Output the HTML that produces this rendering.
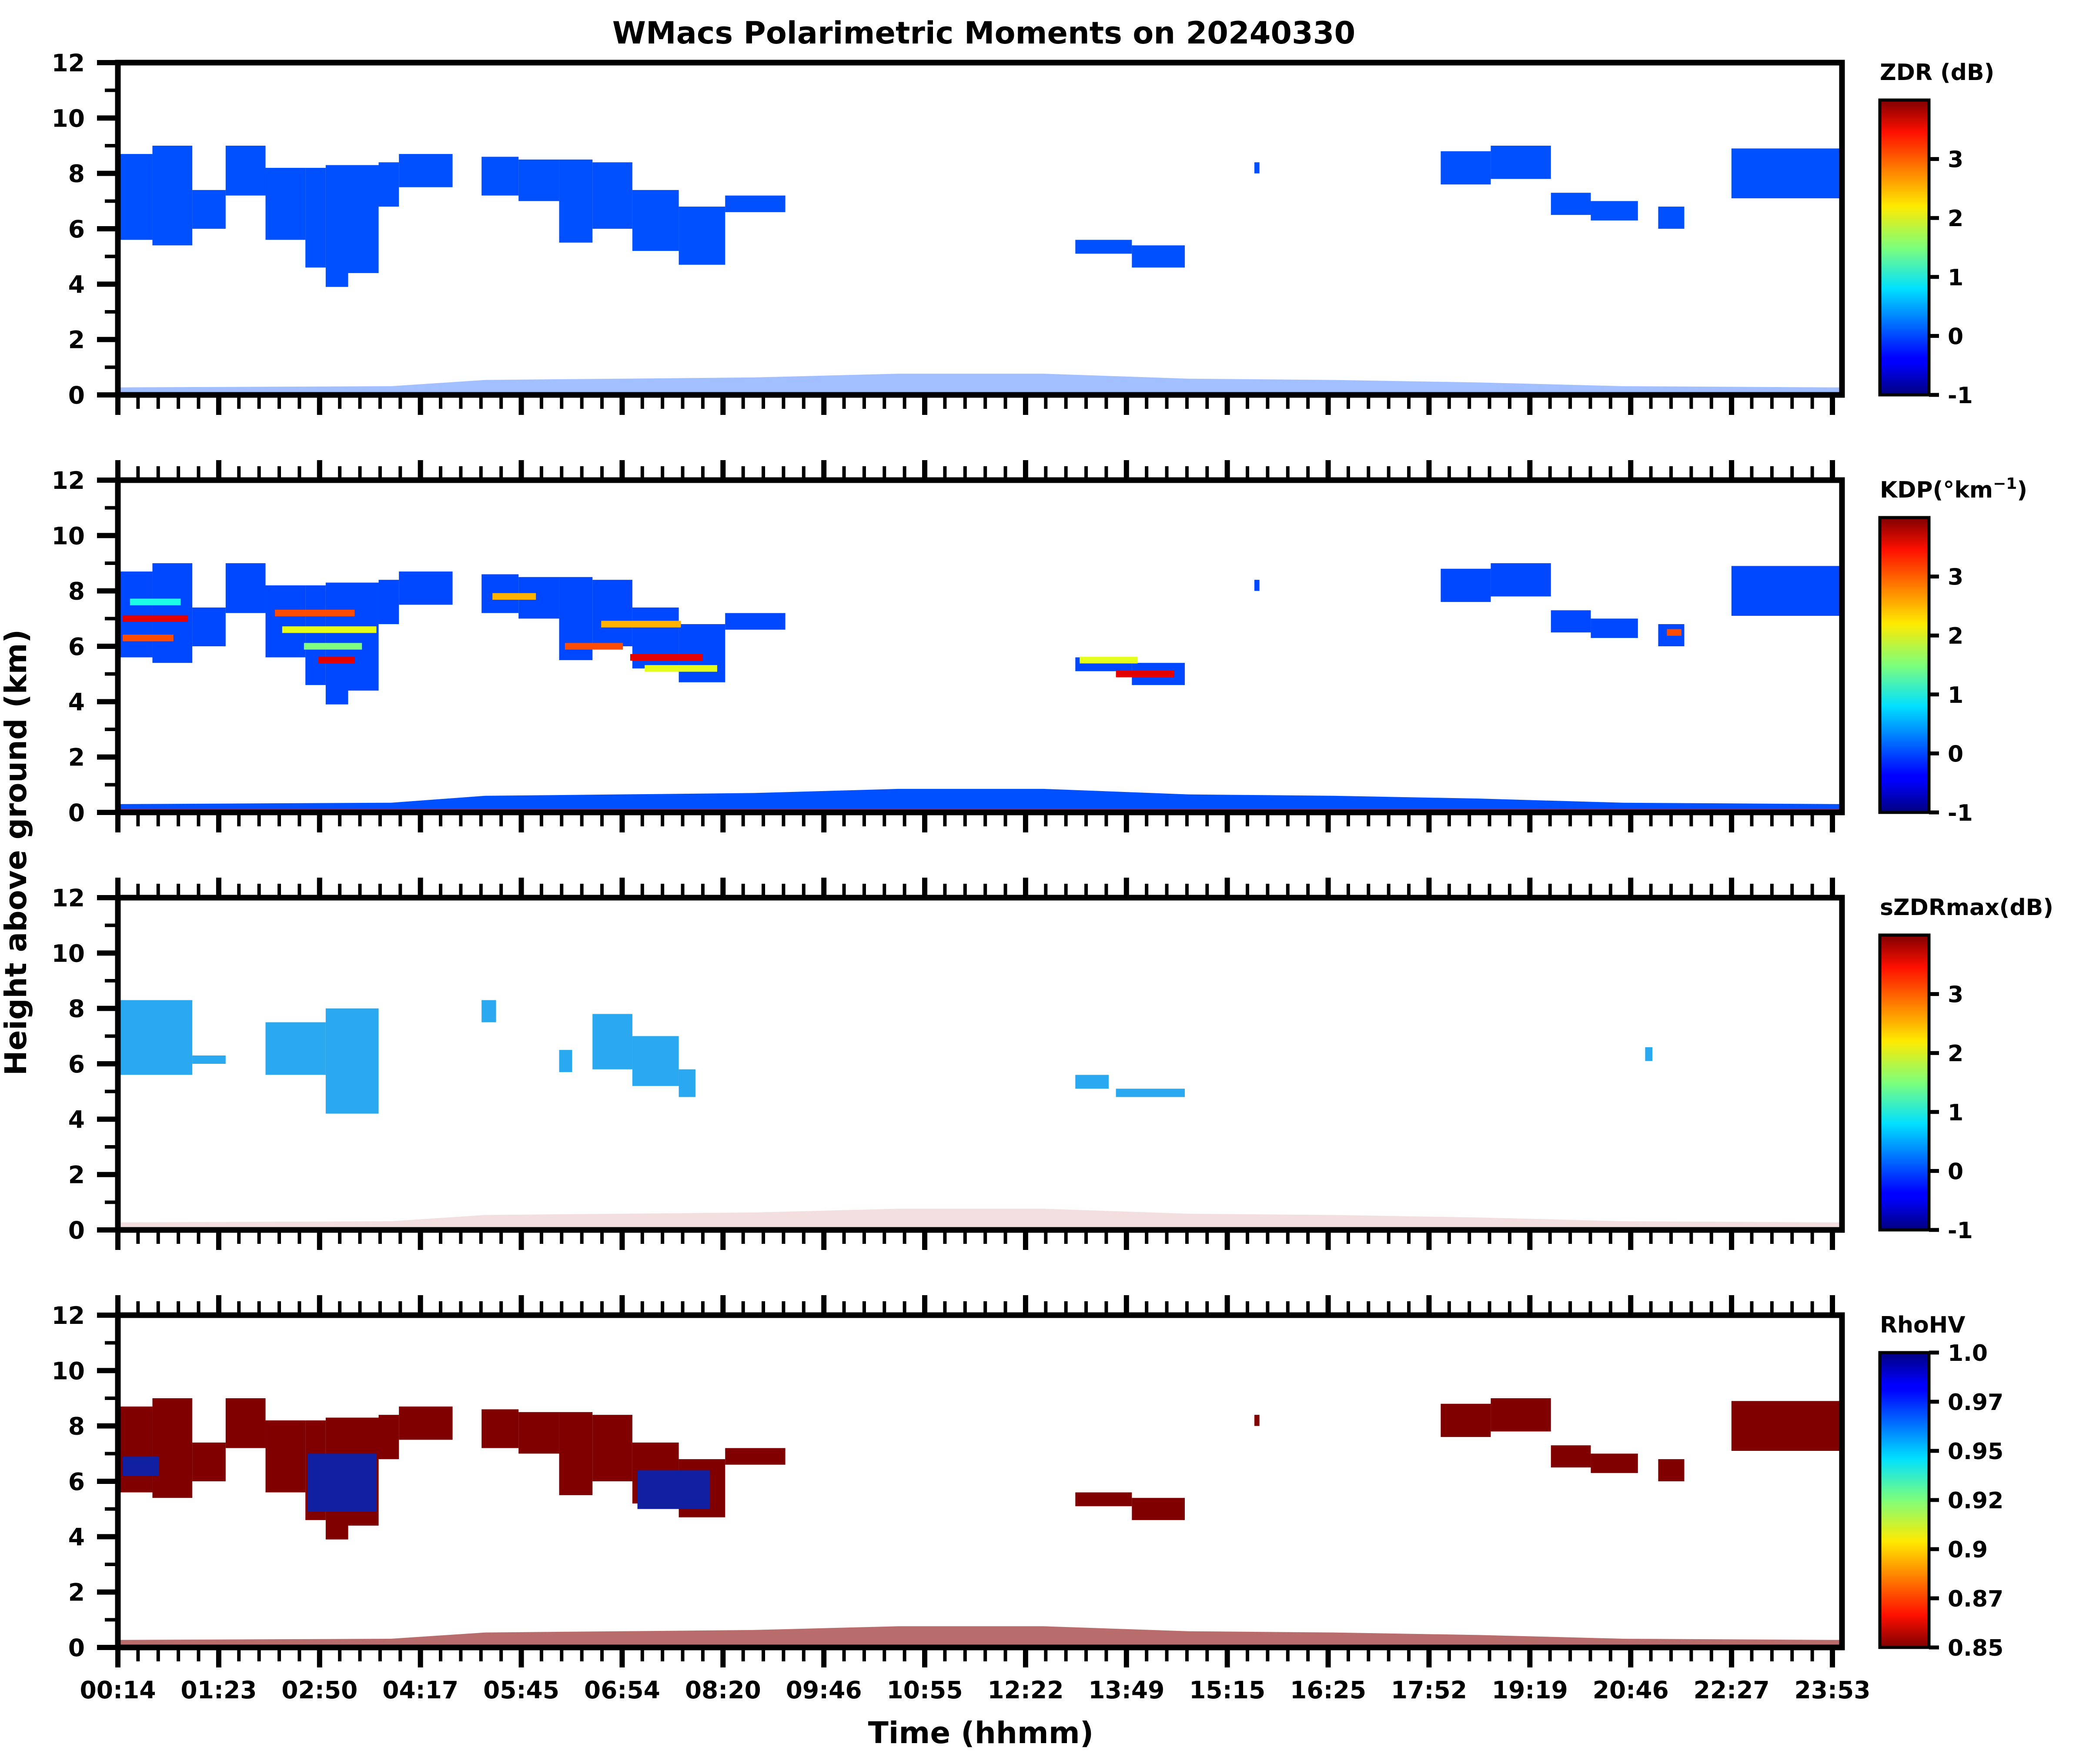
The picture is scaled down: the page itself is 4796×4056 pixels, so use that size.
<!DOCTYPE html>
<html><head><meta charset="utf-8"><style>
html,body{margin:0;padding:0;background:#fff;}
svg{display:block;}
text{font-family:"DejaVu Sans","Liberation Sans",sans-serif;font-weight:bold;fill:#000;}
</style></head>
<body>
<svg id="chart" width="4796" height="4056" viewBox="0 0 4796 4056" xmlns="http://www.w3.org/2000/svg">
<defs>
<linearGradient id="jet" x1="0" y1="1" x2="0" y2="0">
<stop offset="0" stop-color="#000080"/><stop offset="0.11" stop-color="#0000ff"/><stop offset="0.125" stop-color="#0000ff"/>
<stop offset="0.36" stop-color="#00e0ff"/><stop offset="0.5" stop-color="#7dff7a"/><stop offset="0.64" stop-color="#ffea00"/>
<stop offset="0.89" stop-color="#ff1000"/><stop offset="1" stop-color="#800000"/>
</linearGradient>
<linearGradient id="jetr" x1="0" y1="0" x2="0" y2="1">
<stop offset="0" stop-color="#000080"/><stop offset="0.11" stop-color="#0000ff"/><stop offset="0.125" stop-color="#0000ff"/>
<stop offset="0.36" stop-color="#00e0ff"/><stop offset="0.5" stop-color="#7dff7a"/><stop offset="0.64" stop-color="#ffea00"/>
<stop offset="0.89" stop-color="#ff1000"/><stop offset="1" stop-color="#800000"/>
</linearGradient>
</defs>
<text x="2262" y="100" font-size="70" text-anchor="middle">WMacs Polarimetric Moments on 20240330</text>
<text x="2255" y="4008" font-size="69" text-anchor="middle">Time (hhmm)</text>
<text x="60" y="1960" font-size="69" text-anchor="middle" transform="rotate(-90 60 1960)">Height above ground (km)</text>
</svg>
<script>
// echo segments (hours, km)
const echoStart=[0.23,0.71,1.26,1.72,2.27,2.82,3.10,3.41,3.83,4.11,5.25,5.76,6.32,6.78,7.33,7.97,8.61,13.44,14.22,15.91,18.48,19.17,20.0,20.55,21.48,22.49];
const echoEnd=[0.71,1.26,1.72,2.27,2.82,3.10,3.41,3.83,4.11,4.85,5.76,6.32,6.78,7.33,7.97,8.61,9.44,14.22,14.95,15.98,19.17,20.0,20.55,21.2,21.84,24.0];
const echoTop=[8.7,9.0,7.4,9.0,8.2,8.2,8.3,8.3,8.4,8.7,8.6,8.5,8.5,8.4,7.4,6.8,7.2,5.6,5.4,8.4,8.8,9.0,7.3,7.0,6.8,8.9];
const echoBase=[5.6,5.4,6.0,7.2,5.6,4.6,3.9,4.4,6.8,7.5,7.2,7.0,5.5,6.0,5.2,4.7,6.6,5.1,4.6,8.0,7.6,7.8,6.5,6.3,6.0,7.1];
// sZDRmax segments
const szStart=[0.23,1.26,2.27,3.10,5.25,6.32,6.78,7.33,7.97,13.44,14.0,21.3];
const szEnd=[1.26,1.72,3.10,3.83,5.45,6.5,7.33,7.97,8.2,13.9,14.95,21.4];
const szTop=[8.3,6.3,7.5,8.0,8.3,6.5,7.8,7.0,5.8,5.6,5.1,6.6];
const szBase=[5.6,6.0,5.6,4.2,7.5,5.7,5.8,5.2,4.8,5.1,4.8,6.1];
// KDP streaks (hours, km, value)
const kdpStreakStart=[0.3,0.3,2.4,2.5,3.0,5.4,6.4,6.9,7.3,7.5,13.5,14.0,21.6,0.4,2.8];
const kdpStreakEnd=[1.2,1.0,3.5,3.8,3.5,6.0,7.2,8.0,8.3,8.5,14.3,14.8,21.8,1.1,3.6];
const kdpStreakHeight=[7.0,6.3,7.2,6.6,5.5,7.8,6.0,6.8,5.6,5.2,5.5,5.0,6.5,7.6,6.0];
const kdpStreakValue=[3.5,3.0,3.0,2.0,3.5,2.5,3.0,2.5,3.5,2.0,2.0,3.5,3.0,1.0,1.5];
// RhoHV low-value (blue) patches
const rhoStart=[0.3,2.85,7.4];
const rhoEnd=[0.8,3.8,8.4];
const rhoTop=[6.9,7.0,6.4];
const rhoBase=[6.2,4.9,5.0];
// surface clutter band tops (km)
const surfTime=[0.23,4.0,5.3,9.0,11.0,13.0,15.0,17.0,19.0,21.0,24.0];
const surfTop=[0.3,0.35,0.6,0.7,0.85,0.85,0.65,0.6,0.5,0.35,0.3];
// axis labels
const timeLabels=["00:14","01:23","02:50","04:17","05:45","06:54","08:20","09:46","10:55","12:22","13:49","15:15","16:25","17:52","19:19","20:46","22:27","23:53"];
const yTicks=[0,2,4,6,8,10,12];
const cbTitles=["ZDR (dB)","KDP","sZDRmax(dB)","RhoHV"];
const cbTickVals=[-1,0,1,2,3];
const rhoTickLabels=["0.85","0.87","0.9","0.92","0.95","0.97","1.0"];

const NS="http://www.w3.org/2000/svg";
const svg=document.getElementById('chart');
const L=271,R=4235,H=764,tops=[144,1104,2064,3024];
const T0=0.2333,T1=23.883,XL=4213;
const CBX=4322,CBW=113;
function xOf(h){return L+(h-T0)/(T1-T0)*(XL-L);}
function yOf(p,km){return tops[p]+(12-km)/12*H;}
function jet(f){f=Math.max(0,Math.min(1,f));
 const r=Math.max(0,Math.min(1,1.5-Math.abs(4*f-3))),g=Math.max(0,Math.min(1,1.5-Math.abs(4*f-2))),b=Math.max(0,Math.min(1,1.5-Math.abs(4*f-1)));
 return 'rgb('+Math.round(r*255)+','+Math.round(g*255)+','+Math.round(b*255)+')';}
function mk(tag,attrs,parent){const e=document.createElementNS(NS,tag);for(const k in attrs)e.setAttribute(k,attrs[k]);(parent||svg).appendChild(e);return e;}

for(let p=0;p<4;p++){
 const g=mk('g',{});
 
 
 const col=p===0?'#0050ff':p===1?'#0048ff':'#800000';
 if(p!==2){
  for(let i=0;i<echoStart.length;i++){
   const r=mk('rect',{x:xOf(echoStart[i]),y:yOf(p,echoTop[i]),width:Math.min(xOf(echoEnd[i]),R)-xOf(echoStart[i]),height:yOf(p,echoBase[i])-yOf(p,echoTop[i]),fill:col},g);
   
   
  }
 } else {
  for(let i=0;i<szStart.length;i++){
   const r=mk('rect',{x:xOf(szStart[i]),y:yOf(p,szTop[i]),width:xOf(szEnd[i])-xOf(szStart[i]),height:yOf(p,szBase[i])-yOf(p,szTop[i]),fill:'#2aa8f0'},g);
   
   
  }
 }
 if(p===1){
  for(let i=0;i<kdpStreakStart.length;i++){
   const r=mk('rect',{x:xOf(kdpStreakStart[i]),y:yOf(p,kdpStreakHeight[i]+0.12),width:xOf(kdpStreakEnd[i])-xOf(kdpStreakStart[i]),height:yOf(p,0)-yOf(p,0.24),fill:jet((kdpStreakValue[i]+1)/5)},g);
   
   
  }
 }
 if(p===3){
  for(let i=0;i<rhoStart.length;i++){
   const r=mk('rect',{x:xOf(rhoStart[i]),y:yOf(p,rhoTop[i]),width:xOf(rhoEnd[i])-xOf(rhoStart[i]),height:yOf(p,rhoBase[i])-yOf(p,rhoTop[i]),fill:'#1020a0'},g);
   
   
  }
 }
 let pts=xOf(surfTime[0])+','+yOf(p,0);
 for(let i=0;i<surfTime.length;i++){pts+=' '+Math.min(xOf(surfTime[i]),R)+','+yOf(p,surfTop[i]*(p===1?1:0.9));}
 pts+=' '+R+','+yOf(p,0);
 const sc=p===0?'#3070ff':p===1?'#0050ff':p===2?'#d08080':'#8a0a0a';
 const op=p===0?0.45:p===1?1:p===2?0.25:0.6;
 const s=mk('polygon',{points:pts,fill:sc,'fill-opacity':op},g);
 
 
 if(p===1){
  const b=mk('rect',{x:L,y:yOf(p,0.12),width:R-L,height:yOf(p,0)-yOf(p,0.12),fill:'#c02020'},g);
  
  
 }
 const f=mk('rect',{x:L,y:tops[p],width:R-L,height:H,fill:'none',stroke:'#000','stroke-width':13},g);
 
 
 for(let k=0;k<=12;k++){
  const maj=k%2===0;
  const t=mk('line',{x1:L-(maj?48:30),x2:L,y1:yOf(p,k),y2:yOf(p,k),stroke:'#000','stroke-width':maj?12:8},g);
  
  
 }
 for(const v of yTicks){
  const t=mk('text',{x:195,y:yOf(p,v)+20,'font-size':55,'text-anchor':'end'},g);
  t.textContent=v;
  
  
 }
 const sp=(XL-L)/(timeLabels.length-1)/5;
 for(let k=0;k<=85;k++){
  const x=L+k*sp; if(x>R)break;
  const maj=k%5===0;
  const bt=mk('line',{x1:x,x2:x,y1:tops[p]+H,y2:tops[p]+H+(maj?46:32),stroke:'#000','stroke-width':maj?12:8},g);
  
  
  if(p>0){
   const tt=mk('line',{x1:x,x2:x,y1:tops[p],y2:tops[p]-(maj?46:32),stroke:'#000','stroke-width':maj?12:8},g);
   
   
  }
 }
 const cy0=tops[p]+86,cy1=tops[p]+H;
 const cb=mk('rect',{x:CBX,y:cy0,width:CBW,height:cy1-cy0,fill:p===3?'url(#jetr)':'url(#jet)',stroke:'#000','stroke-width':7},g);
 
 
 const ct=mk('text',{x:CBX,y:tops[p]+40,'font-size':52},g);
 
 
 if(p===1){ct.innerHTML='KDP(°km<tspan dy="-20" font-size="36">−1</tspan><tspan dy="20">)</tspan>';}
 else ct.textContent=cbTitles[p];
 const tx=CBX+CBW;
 if(p<3){
  for(const v of cbTickVals){
   const y=cy1-(v+1)/5*(cy1-cy0);
   const tk=mk('line',{x1:tx,x2:tx+23,y1:y,y2:y,stroke:'#000','stroke-width':9},g);
   
   
   const tl=mk('text',{x:tx+43,y:y+19,'font-size':52},g);
   tl.textContent=v;
   
   
  }
 } else {
  for(let i=0;i<rhoTickLabels.length;i++){
   const y=cy1-i/(rhoTickLabels.length-1)*(cy1-cy0);
   const tk=mk('line',{x1:tx,x2:tx+23,y1:y,y2:y,stroke:'#000','stroke-width':9},g);
   
   
   const tl=mk('text',{x:tx+43,y:y+19,'font-size':52},g);
   tl.textContent=rhoTickLabels[i];
   
   
  }
 }
}
for(let i=0;i<timeLabels.length;i++){
 const x=L+i*(XL-L)/(timeLabels.length-1);
 const t=mk('text',{x:x,y:3905,'font-size':55,'text-anchor':'middle'});
 t.textContent=timeLabels[i];
 
 
}
</script>
</body></html>
